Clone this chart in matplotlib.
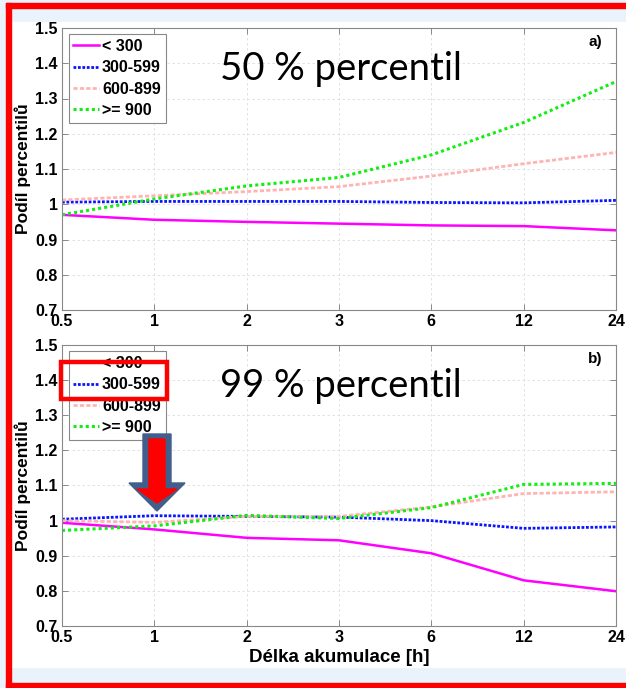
import matplotlib
matplotlib.use("Agg")
import matplotlib.pyplot as plt
from matplotlib.patches import Rectangle, Polygon

W, H = 626, 688

# accumulation lengths [h] (shown as equally spaced categories)
durations = ["0.5", "1", "2", "3", "6", "12", "24"]
groups = ["< 300", "300-599", "600-899", ">= 900"]

# a) 50 % percentile ratios
p50_lt300 = [0.970, 0.956, 0.950, 0.945, 0.940, 0.938, 0.926]
p50_300_599 = [1.006, 1.008, 1.008, 1.008, 1.005, 1.004, 1.011]
p50_600_899 = [1.012, 1.024, 1.036, 1.050, 1.080, 1.115, 1.147]
p50_ge900 = [0.970, 1.015, 1.052, 1.076, 1.140, 1.232, 1.348]

# b) 99 % percentile ratios
p99_lt300 = [0.994, 0.975, 0.951, 0.944, 0.907, 0.830, 0.799]
p99_300_599 = [1.004, 1.014, 1.012, 1.010, 1.000, 0.978, 0.982]
p99_600_899 = [1.000, 0.995, 1.012, 1.012, 1.039, 1.077, 1.082]
p99_ge900 = [0.972, 0.985, 1.015, 1.006, 1.037, 1.103, 1.106]

styles = [
    dict(color="#ff00ff", lw=1.8, ls="-"),
    dict(color="#0a14ff", lw=2.0, ls=(0, (1, 0.6))),
    dict(color="#ffb4b4", lw=2.0, ls=(0, (1.5, 0.8))),
    dict(color="#11ee11", lw=2.2, ls=(0, (1, 1))),
]


def fx(px):
    return px / W


def fy(py):
    return 1 - py / H


def px_axes(fig, left, top, right, bottom):
    return fig.add_axes([fx(left), fy(bottom), (right - left) / W, (bottom - top) / H])


fig = plt.figure(figsize=(W / 100, H / 100), dpi=100)

# slide-like background and red frame
fig.add_artist(Rectangle((0, 0), 1, 1, transform=fig.transFigure, color="#e8f3fc", zorder=0))
fig.add_artist(Rectangle((fx(11), fy(667)), 1, (667 - 22) / H, transform=fig.transFigure,
                         color="white", zorder=0))
red = "#ff0000"
fig.add_artist(Rectangle((fx(6), fy(8)), 1, 5 / H, transform=fig.transFigure, color=red, zorder=1))
fig.add_artist(Rectangle((fx(6), fy(688)), 5 / W, (688 - 3) / H, transform=fig.transFigure,
                         color=red, zorder=1))
fig.add_artist(Rectangle((fx(6), 0), 1, 5 / H, transform=fig.transFigure, color=red, zorder=1))

panels = [
    (28, 310, [p50_lt300, p50_300_599, p50_600_899, p50_ge900], "a)", "50 % percentil"),
    (345, 626, [p99_lt300, p99_300_599, p99_600_899, p99_ge900], "b)", "99 % percentil"),
]

x = list(range(len(durations)))
axes = []
for top, bottom, series, tag, big in panels:
    ax = px_axes(fig, 62, top, 616, bottom)
    ax.set_facecolor("white")
    for vals, name, st in zip(series, groups, styles):
        ax.plot(x, vals, label=name, **st)
    ax.set_xlim(0, len(durations) - 1)
    ax.set_ylim(0.7, 1.5)
    ax.set_xticks(x)
    ax.set_xticklabels(durations)
    ax.set_yticks([0.7, 0.8, 0.9, 1.0, 1.1, 1.2, 1.3, 1.4, 1.5])
    ax.set_yticklabels(["0.7", "0.8", "0.9", "1", "1.1", "1.2", "1.3", "1.4", "1.5"])
    ax.grid(True, color="#dddddd", ls=(0, (3, 3)), lw=0.6)
    ax.tick_params(direction="in", length=4, width=0.6, color="#777777",
                   top=True, right=True, labelsize=11.5, pad=3)
    for lab in ax.get_xticklabels() + ax.get_yticklabels():
        lab.set_fontweight("bold")
        lab.set_family("Liberation Sans")
    for sp in ax.spines.values():
        sp.set_color("#888888")
        sp.set_linewidth(0.8)
    ax.set_ylabel("Podíl percentilů", fontsize=12.5, fontweight="bold",
                  family="Liberation Sans")
    ax.yaxis.set_label_coords(-0.056, 0.5)
    ax.text(0.963, 0.95, tag, transform=ax.transAxes, ha="center", va="center",
            fontsize=11, fontweight="bold", family="Liberation Sans")
    ax.text(0.285, 0.855, big, transform=ax.transAxes, ha="left", va="center",
            fontsize=27.5, family="Lato")
    leg = ax.legend(loc="upper left", bbox_to_anchor=(0.006, 0.99), fancybox=False,
                    framealpha=1, edgecolor="#888888", handlelength=1.6,
                    handletextpad=0.2, labelspacing=0.4, borderpad=0.3,
                    borderaxespad=0.2,
                    prop=dict(family="Liberation Sans", weight="bold", size=11.5))
    leg.get_frame().set_linewidth(0.8)
    axes.append(ax)

axes[1].set_xlabel("Délka akumulace [h]", fontsize=13.5, fontweight="bold",
                   family="Liberation Sans", labelpad=3)

# highlight box around the 300-599 entry in panel b
fig.add_artist(Rectangle((fx(61), fy(399)), (167 - 61) / W, (399 - 362) / H,
                         transform=fig.transFigure, fill=False, edgecolor=red, lw=3.2, zorder=10))

# down arrow pointing at the 300-599 curve at 1 h
outer = [(143, 434), (171, 434), (171, 483), (185, 483), (157, 511), (129, 483), (143, 483)]
inner = [(149, 439), (165, 439), (165, 489), (177, 489), (157, 503), (137, 489), (149, 489)]
fig.add_artist(Polygon([(fx(a), fy(b)) for a, b in outer], closed=True,
                       transform=fig.transFigure, color="#415f8a", zorder=10))
fig.add_artist(Polygon([(fx(a), fy(b)) for a, b in inner], closed=True,
                       transform=fig.transFigure, color=red, zorder=11))

fig.savefig("out.png", dpi=100)
